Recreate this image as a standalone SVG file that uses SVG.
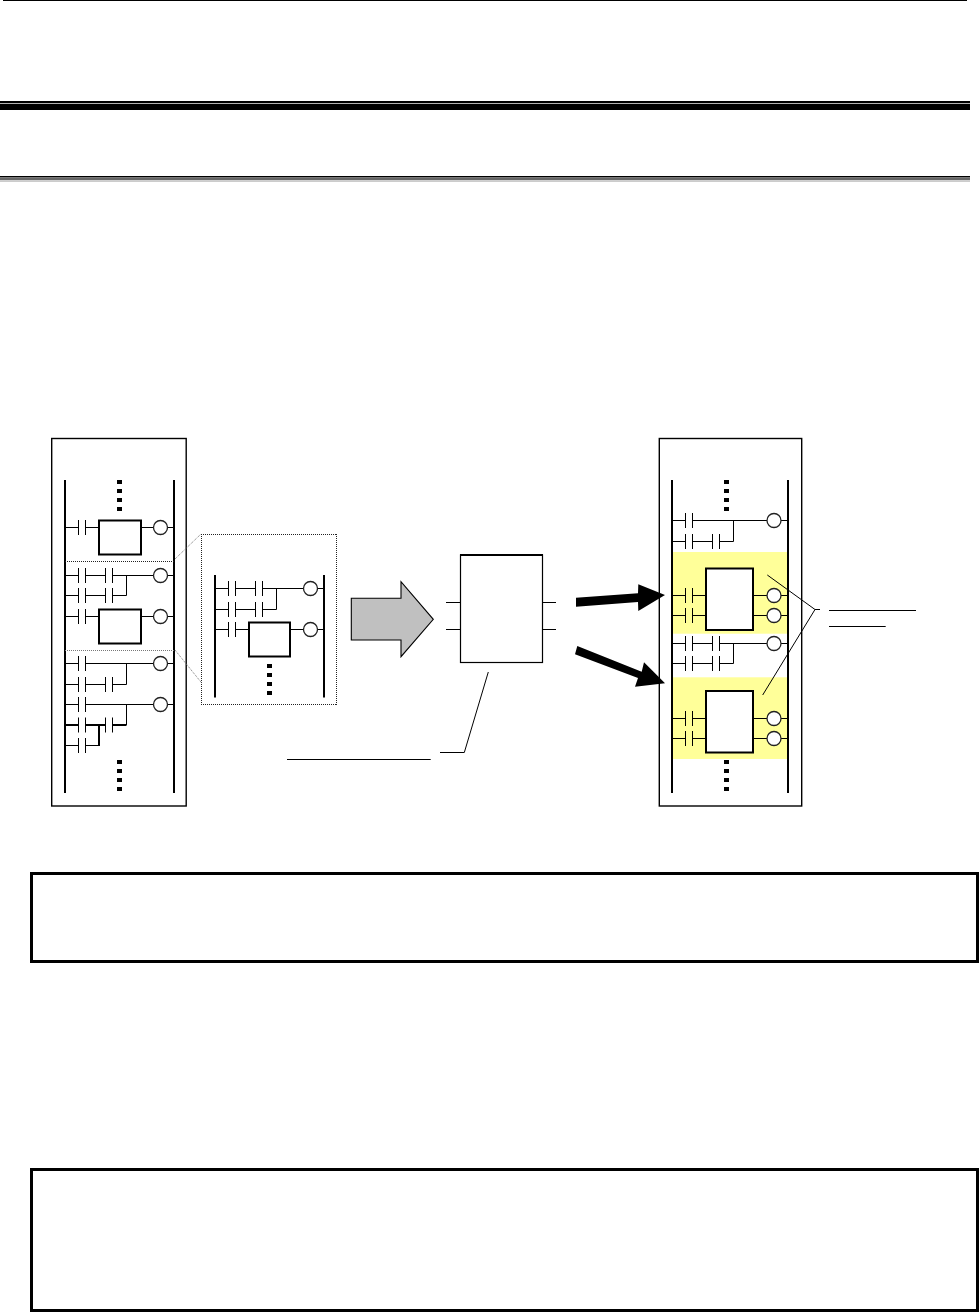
<svg xmlns="http://www.w3.org/2000/svg" width="979" height="1312" viewBox="0 0 979 1312">
<style>
.w{fill:none;stroke:#000;stroke-width:1}
.t{fill:none;stroke:#000;stroke-width:2}
.rail{fill:none;stroke:#000;stroke-width:2}
.frame{fill:#fff;stroke:#000;stroke-width:1.4}
.box{fill:#fff;stroke:#000;stroke-width:2}
.coil{fill:#fff;stroke:#222;stroke-width:1.3}
.note{fill:#fff;stroke:#000;stroke-width:3}
.dot{fill:none;stroke:#222;stroke-width:1;stroke-dasharray:1 1}
.dotg{fill:none;stroke:#777;stroke-width:1;stroke-dasharray:1 1}
</style>
<defs>
<g id="c"><path class="w" d="M0-7.5V7.5M7-7.5V7.5"/></g>
<circle id="o" class="coil" r="7"/>
<g id="v"><rect x="-2.5" y="0" width="5" height="4"/><rect x="-2.5" y="9" width="5" height="4"/><rect x="-2.5" y="18" width="5" height="4"/><rect x="-2.5" y="27" width="5" height="4"/></g>
</defs>
<rect width="979" height="1312" fill="#fff"/>
<g id="header">
<rect x="3" y="0" width="964" height="1" fill="#000"/>
<rect x="0" y="101" width="970" height="2" fill="#000"/>
<rect x="0" y="103.7" width="970" height="6.3" fill="#000"/>
<rect x="0" y="176" width="970" height="1.4" fill="#000"/>
<rect x="0" y="177.4" width="970" height="2.8" fill="#666"/>
<rect x="0" y="180.2" width="970" height="1.8" fill="#ccc"/>
</g>
<g id="left-program">
<rect class="frame" x="51.7" y="438.5" width="134.5" height="367.5"/>
<path class="rail" d="M65 480V793M174 480V793"/>
<use href="#v" x="119.5" y="480"/><use href="#v" x="119.5" y="760"/>
<path class="w" d="M65 527.5H78.5M85.5 527.5H99M141 527.5H153M167 527.5H174"/>
<use href="#c" x="78.5" y="527.5"/>
<rect class="box" x="99" y="520.5" width="42" height="34"/><use href="#o" x="160.5" y="527.5"/>
<path class="dot" d="M65 561.5H174"/>
<path class="w" d="M65 575.5H78.5M85.5 575.5H105.5M112.5 575.5H153M167 575.5H174M65 595.5H78.5M85.5 595.5H105.5M112.5 595.5H126.5V575.5"/>
<use href="#c" x="78.5" y="575.5"/><use href="#c" x="105.5" y="575.5"/><use href="#c" x="78.5" y="595.5"/><use href="#c" x="105.5" y="595.5"/><use href="#o" x="160.5" y="575.5"/>
<path class="w" d="M65 616.5H78.5M85.5 616.5H99M141 616.5H153M167 616.5H174"/>
<use href="#c" x="78.5" y="616.5"/>
<rect class="box" x="99" y="609.5" width="42" height="34"/><use href="#o" x="160.5" y="616.5"/>
<path class="dotg" d="M65 650.5H174"/>
<path class="w" d="M65 663.5H78.5M85.5 663.5H153M167 663.5H174M65 684.5H78.5M85.5 684.5H105.5M112.5 684.5H126.5V663.5"/>
<use href="#c" x="78.5" y="663.5"/><use href="#c" x="78.5" y="684.5"/><use href="#c" x="105.5" y="684.5"/><use href="#o" x="160.5" y="663.5"/>
<path class="w" d="M65 704.5H78.5M85.5 704.5H153M167 704.5H174M126.5 704.5V725"/>
<use href="#c" x="78.5" y="704.5"/><use href="#o" x="160.5" y="704.5"/>
<path class="t" d="M65 725H78.5M85.5 725H105.5M112.5 725H126.5M99 725V746"/>
<use href="#c" x="78.5" y="725"/><use href="#c" x="105.5" y="725"/>
<path class="w" d="M65 745.5H78.5M85.5 745.5H99"/>
<use href="#c" x="78.5" y="745.5"/>
</g>
<g id="zoom-detail">
<path class="dot" d="M201 534.5H337M201 704.5H337M201.5 534V705M336.5 534V705"/>
<path class="rail" d="M215 575V697.5M324 575V697.5"/>
<path class="w" d="M215 588.5H228.5M235.5 588.5H255.5M262.5 588.5H303M317 588.5H324M215 609.5H228.5M235.5 609.5H255.5M262.5 609.5H276.5V588.5M215 629.5H228.5M235.5 629.5H249M290 629.5H303M317 629.5H324"/>
<use href="#c" x="228.5" y="588.5"/><use href="#c" x="255.5" y="588.5"/><use href="#c" x="228.5" y="609.5"/><use href="#c" x="255.5" y="609.5"/><use href="#c" x="228.5" y="629.5"/>
<use href="#o" x="310.5" y="588.5"/><use href="#o" x="310.5" y="629.5"/>
<rect class="box" x="249" y="622.5" width="41" height="34"/>
<use href="#v" x="269.5" y="664"/>
</g>
<g id="big-arrow"><path d="M351.3 598.3H401V581.7L433.3 619.3 401 656.7V640H351.3Z" fill="#c0c0c0" stroke="#000" stroke-width="1.1"/></g>
<g id="subprogram">
<path class="w" d="M446 602.5H460M446 629.5H460M542.3 602.5H556M542.3 629.5H556"/>
<rect x="460.5" y="555" width="82" height="107.5" fill="#fff" stroke="#000" stroke-width="1.2"/>
<path d="M460 555H543" stroke="#000" stroke-width="2" fill="none"/>
</g>
<g id="right-program">
<rect class="frame" x="659.3" y="438.5" width="142.4" height="367.5"/>
<rect x="672" y="552" width="116" height="81.7" fill="#ffff99"/>
<rect x="672" y="677.3" width="116" height="81.7" fill="#ffff99"/>
<path class="rail" d="M672 480V793M788 480V793"/>
<use href="#v" x="726.5" y="480"/><use href="#v" x="726.5" y="760"/>
<path class="w" d="M672 520.5H685.5M692.5 520.5H767M781 520.5H788M672 541.5H685.5M692.5 541.5H712.5M719.5 541.5H733.5V520.5"/>
<use href="#c" x="685.5" y="520.5"/><use href="#c" x="685.5" y="541.5"/><use href="#c" x="712.5" y="541.5"/><use href="#o" x="774" y="520.5"/>
<path class="w" d="M672 595.5H685.5M692.5 595.5H706M753 595.5H767M781 595.5H788M672 615.5H685.5M692.5 615.5H706M753 615.5H767M781 615.5H788"/>
<use href="#c" x="685.5" y="595.5"/><use href="#c" x="685.5" y="615.5"/>
<rect class="box" x="706" y="568.5" width="47" height="61.5"/>
<use href="#o" x="774" y="595.5"/><use href="#o" x="774" y="615.5"/>
<path class="w" d="M672 643.5H685.5M692.5 643.5H712.5M719.5 643.5H767M781 643.5H788M672 663.5H685.5M692.5 663.5H712.5M719.5 663.5H733.5V643.5"/>
<use href="#c" x="685.5" y="643.5"/><use href="#c" x="712.5" y="643.5"/><use href="#c" x="685.5" y="663.5"/><use href="#c" x="712.5" y="663.5"/><use href="#o" x="774" y="643.5"/>
<path class="w" d="M672 718.5H685.5M692.5 718.5H706M753 718.5H767M781 718.5H788M672 738.5H685.5M692.5 738.5H706M753 738.5H767M781 738.5H788"/>
<use href="#c" x="685.5" y="718.5"/><use href="#c" x="685.5" y="738.5"/>
<rect class="box" x="706" y="691" width="47" height="61.5"/>
<use href="#o" x="774" y="718.5"/><use href="#o" x="774" y="738.5"/>
</g>
<g id="note-1"><rect class="note" x="31.5" y="873.5" width="946" height="88"/></g>
<g id="note-2"><rect class="note" x="31.5" y="1169.5" width="946" height="141"/></g>
<g id="connectors">
<path class="dotg" d="M175 559L201 534"/>
<path class="dotg" d="M175 650L201.7 683"/>
<path d="M576 597.7L638 593.3 638.3 584.3 665 595 638.3 611 638 602 576 606.7Z" fill="#000"/>
<path d="M577.3 646L641.7 671.7 644 662.3 665 683.3 635 686.7 638 678 575 654.3Z" fill="#000"/>
<path class="w" d="M488.3 672L464.3 752.5H440"/>
<path class="w" d="M287 759.5H430.7"/>
<path class="w" d="M767.3 575L815 609.5H820M815 609.5L762.7 695"/>
<path class="w" d="M829 610.5H916M829 626.5H885.7"/>
</g>
</svg>
